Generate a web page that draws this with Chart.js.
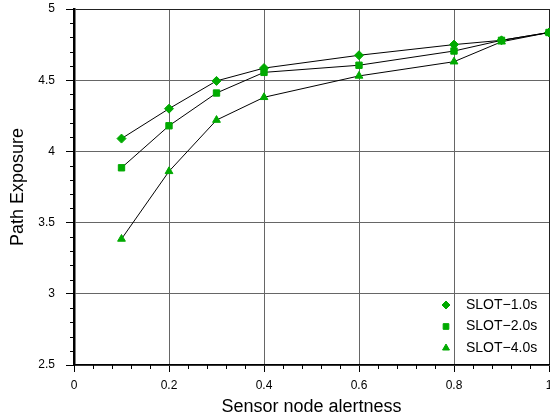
<!DOCTYPE html>
<html>
<head>
<meta charset="utf-8">
<script src="https://cdn.jsdelivr.net/npm/chart.js@4.4.0/dist/chart.umd.min.js"></script>
<style>
html, body { margin: 0; padding: 0; background: #fff; }
#wrap { width: 550px; height: 419px; }
</style>
</head>
<body>
<div id="wrap"><canvas id="exposureChart"></canvas></div>
<script>
const alertness = [0.1, 0.2, 0.3, 0.4, 0.6, 0.8, 0.9, 1.0];
const slot1 = [4.09, 4.30, 4.495, 4.585, 4.675, 4.75, 4.78, 4.835];
const slot2 = [3.885, 4.18, 4.41, 4.555, 4.605, 4.705, 4.78, 4.835];
const slot4 = [3.385, 3.86, 4.22, 4.38, 4.53, 4.63, 4.77, 4.835];
const seriesNames = ['SLOT−1.0s', 'SLOT−2.0s', 'SLOT−4.0s'];

const green = '#00aa00';
Chart.defaults.font.family = '"Liberation Sans", Arial, sans-serif';
Chart.defaults.color = '#000';

function pts(ys) {
    return alertness.map((x, i) => ({ x: x, y: ys[i] }));
}

function series(label, ys, shape) {
    return {
        label: label,
        data: pts(ys),
        showLine: true,
        borderColor: '#000',
        borderWidth: 1,
        tension: 0,
        pointStyle: shape,
        pointRadius: 4.5,
        pointBackgroundColor: green,
        pointBorderColor: green,
        pointBorderWidth: 1,
        clip: false
    };
}

const plainNum = v => String(+Number(v).toFixed(2));

// minor ticks on the axes, outside the plot
const minorTicks = {
    id: 'minorTicks',
    afterDraw(chart) {
        const { ctx, chartArea, scales } = chart;
        ctx.save();
        ctx.strokeStyle = '#000';
        ctx.lineWidth = 1;
        ctx.beginPath();
        for (let i = 1; i < 25; i++) {
            if (i % 5 === 0) continue;
            const px = Math.round(scales.x.getPixelForValue(i * 0.04)) + 0.5;
            ctx.moveTo(px, chartArea.bottom);
            ctx.lineTo(px, chartArea.bottom + 4);
        }
        for (let i = 1; i < 25; i++) {
            if (i % 5 === 0) continue;
            const py = Math.round(scales.y.getPixelForValue(2.5 + i * 0.1)) + 0.5;
            ctx.moveTo(chartArea.left - 4, py);
            ctx.lineTo(chartArea.left, py);
        }
        ctx.stroke();
        ctx.restore();
    }
};

// legend sitting in the lower right corner of the plot
const cornerLegend = {
    id: 'cornerLegend',
    afterDraw(chart) {
        const { ctx, chartArea } = chart;
        ctx.save();
        ctx.font = '14px "Liberation Sans", Arial, sans-serif';
        ctx.textBaseline = 'middle';
        chart.data.datasets.forEach((ds, i) => {
            const y = chartArea.bottom - 60 + i * 21.5;
            ctx.fillStyle = green;
            ctx.strokeStyle = green;
            ctx.lineWidth = 1;
            Chart.helpers.drawPoint(ctx, { pointStyle: ds.pointStyle, radius: 4, borderWidth: 1 }, chartArea.right - 103, y);
            ctx.fillStyle = '#000';
            ctx.fillText(ds.label, chartArea.right - 83, y);
        });
        ctx.restore();
    }
};

const ctx = document.getElementById('exposureChart').getContext('2d');
const exposureChart = new Chart(ctx, {
    type: 'scatter',
    data: {
        datasets: [
            series(seriesNames[0], slot1, 'rectRot'),
            series(seriesNames[1], slot2, 'rect'),
            series(seriesNames[2], slot4, 'triangle')
        ]
    },
    options: {
        responsive: true,
        maintainAspectRatio: false,
        animation: false,
        layout: { autoPadding: false, padding: { top: 9, right: 1, left: 0, bottom: 0 } },
        plugins: {
            legend: { display: false },
            tooltip: { enabled: false }
        },
        scales: {
            x: {
                type: 'linear',
                min: 0,
                max: 1,
                ticks: { stepSize: 0.2, padding: 6, font: { size: 12 }, color: '#000', callback: plainNum },
                grid: {
                    color: c => (c.tick && c.tick.value === 1) ? '#222' : '#666',
                    tickColor: '#000',
                    tickLength: 7
                },
                border: { color: '#000', width: 1.5 },
                title: {
                    display: true,
                    text: 'Sensor node alertness',
                    font: { size: 18 },
                    color: '#000',
                    padding: { top: 0, bottom: 1 }
                },
                afterFit(scale) {
                    scale.height = 54;
                    scale.paddingLeft = 0;
                    scale.paddingRight = 0;
                }
            },
            y: {
                min: 2.5,
                max: 5,
                ticks: { stepSize: 0.5, padding: 11, font: { size: 12 }, color: '#000', callback: plainNum },
                grid: {
                    color: c => (c.tick && c.tick.value === 5) ? '#222' : '#666',
                    tickColor: '#000',
                    tickLength: 8
                },
                border: { color: '#000', width: 2.5 },
                title: {
                    display: true,
                    text: 'Path Exposure',
                    font: { size: 18 },
                    color: '#000',
                    padding: { top: 7, bottom: 0 }
                },
                afterFit(scale) {
                    scale.width = 74;
                    scale.paddingTop = 0;
                    scale.paddingBottom = 0;
                }
            }
        }
    },
    plugins: [minorTicks, cornerLegend]
});
</script>
</body>
</html>
